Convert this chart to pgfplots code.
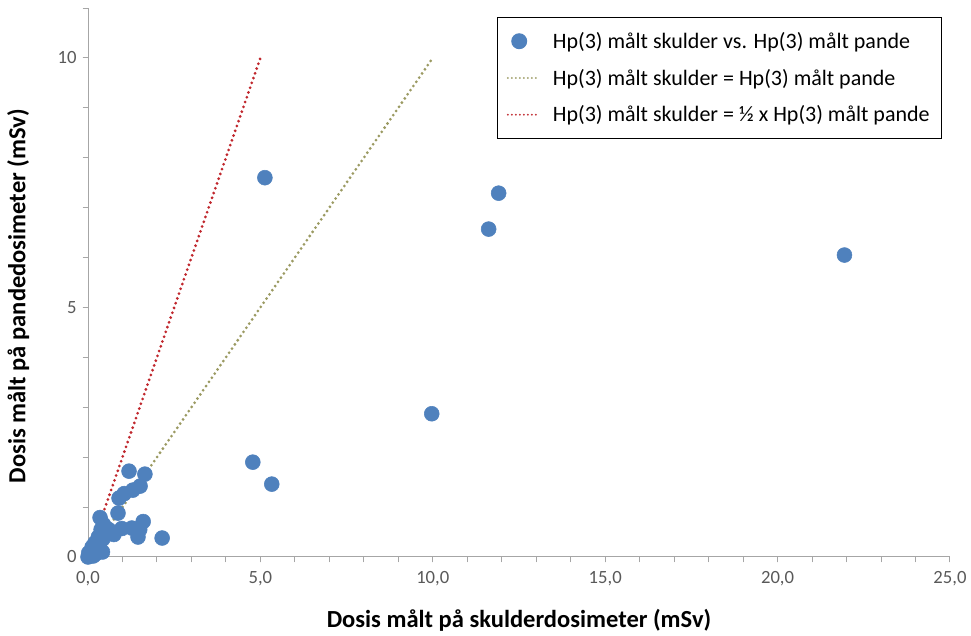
\documentclass[border=0pt]{standalone}
\usepackage{pgfplots}
\pgfplotsset{compat=1.18}
\usepackage{fontspec}
\setmainfont{Carlito}
\definecolor{cBlue}{HTML}{4F81BD}
\definecolor{cOlive}{HTML}{9B9A62}
\definecolor{cRed}{HTML}{C0272D}
\definecolor{cAxis}{HTML}{A6A6A6}
\definecolor{cTick}{HTML}{595959}
\pgfplotsset{dotleg/.style={legend image code/.code={\draw[##1] (0pt,0pt) -- (23pt,0pt);}}}

\begin{document}
\begin{tikzpicture}
\begin{axis}[width=646.5pt,height=411.75pt,scale only axis,
  xmin=0,xmax=25,ymin=0,ymax=11,
  axis x line=bottom,axis y line=left,
  axis line style={-,cAxis,line width=0.75pt},
  xtick={0,5,...,25},minor xtick={0,1,...,25},
  ytick={0,5,10},minor ytick={0,1,...,11},
  tick align=outside,major tick length=4pt,minor tick length=4pt,
  tick style={cAxis,line width=0.75pt},
  tick label style={font=\fontsize{14}{16}\selectfont,text=cTick},
  x tick label style={yshift=-3pt,/pgf/number format/.cd,fixed,fixed zerofill,precision=1,use comma,assume math mode=true},
  y tick label style={xshift=-1pt,/pgf/number format/assume math mode=true},
  xlabel={Dosis målt på skulderdosimeter (mSv)},
  ylabel={Dosis målt på pandedosimeter (mSv)},
  label style={font=\fontsize{18.4}{21}\selectfont\bfseries},
  xlabel style={at={(axis description cs:0.5,-0.115)},anchor=center},
  ylabel style={at={(axis description cs:-0.081,0.475)},anchor=center,rotate=0},
  clip=false,
  legend style={at={(axis description cs:0.4745,0.9836)},anchor=north west,
    draw=black,line width=0.75pt,font=\fontsize{16.5}{19}\selectfont,
    row sep=10pt,inner xsep=7pt,inner ysep=9pt,
    /tikz/every odd column/.append style={column sep=8pt}},
  legend cell align=left]
\path (axis description cs:-0.1021,-0.1366) (axis description cs:1.0244,1.0146);
\addplot[cOlive,line width=2.3pt,line cap=round,dash pattern=on 0pt off 3.8pt,forget plot]
  coordinates {(0,0)(10,10)};
\addplot[cRed,line width=2.3pt,line cap=round,dash pattern=on 0pt off 3.8pt,forget plot]
  coordinates {(0,0)(5,10)};
\addplot[only marks,mark=*,mark size=5.6pt,cBlue,mark options={draw=none,fill=cBlue}]
  coordinates {
  (0.00,0.00)(0.02,0.08)(0.05,0.02)(0.10,0.12)(0.15,0.02)(0.12,0.20)
  (0.20,0.05)(0.20,0.28)(0.25,0.15)(0.30,0.10)(0.30,0.40)(0.35,0.30)
  (0.35,0.79)(0.38,0.55)(0.42,0.10)(0.43,0.36)(0.45,0.65)(0.50,0.58)
  (0.60,0.55)(0.75,0.45)(0.87,0.88)(0.90,1.18)(0.98,0.57)(1.05,1.27)
  (1.19,1.72)(1.27,0.58)(1.30,1.34)(1.45,0.40)(1.50,0.55)(1.51,1.42)
  (1.60,0.71)(1.65,1.66)(2.15,0.38)(4.78,1.90)(5.13,7.60)(5.33,1.46)
  (9.97,2.87)(11.62,6.57)(11.91,7.29)(21.94,6.05)};
\addlegendentry{Hp(3) målt skulder vs. Hp(3) målt pande}
\addlegendimage{dotleg,cOlive,line width=1.5pt,line cap=round,dash pattern=on 0pt off 3pt}
\addlegendentry{Hp(3) målt skulder = Hp(3) målt pande}
\addlegendimage{dotleg,cRed,line width=1.5pt,line cap=round,dash pattern=on 0pt off 3pt}
\addlegendentry{Hp(3) målt skulder = ½ x Hp(3) målt pande}
\end{axis}
\end{tikzpicture}
\end{document}
